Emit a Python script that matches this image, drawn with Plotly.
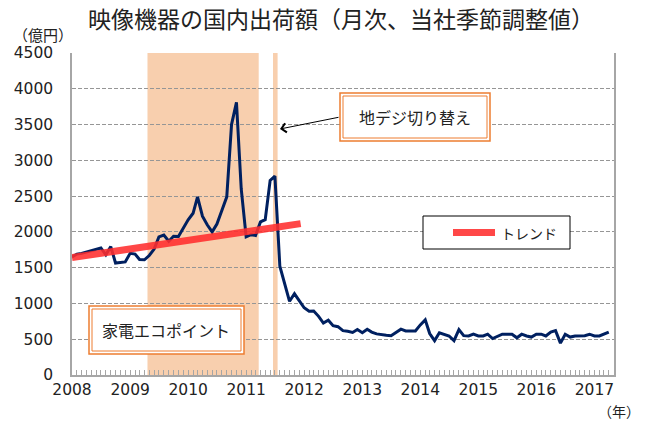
import pandas as pd
import plotly.graph_objects as go

# ---- data ----
months = pd.date_range("2008-01-01", periods=112, freq="MS")
shipments = [
    1650, 1690, 1700, 1720, 1740, 1755, 1775, 1680, 1795, 1565, 1570, 1580,   # 2008
    1700, 1690, 1615, 1610, 1670, 1760, 1930, 1955, 1870, 1940, 1935, 2050,   # 2009
    2170, 2260, 2490, 2220, 2100, 2000, 2110, 2300, 2490, 3500, 3810, 2600,   # 2010
    1930, 1960, 1950, 2140, 2170, 2720, 2780, 1520, 1270, 1030, 1135, 1030,   # 2011
    940, 890, 895, 820, 725, 765, 690, 675, 620, 610, 595, 635,               # 2012
    590, 640, 600, 575, 560, 555, 550, 595, 640, 615, 615, 615,               # 2013
    700, 770, 580, 480, 590, 570, 545, 480, 635, 550, 545, 570,               # 2014
    545, 545, 570, 510, 545, 570, 570, 570, 520, 570, 545, 530,               # 2015
    570, 570, 545, 600, 620, 445, 570, 530, 545, 545, 550, 570,               # 2016
    545, 545, 570, 600,                                                        # 2017
]
trend_x = ["2008-01-01", "2011-12-10"]
trend_y = [1640, 2115]

ecopoint_period = ("2009-04-20", "2011-03-21")
digital_switch_period = ("2011-06-19", "2011-07-18")

year_ticks = [f"{y}-01-01" for y in range(2008, 2018)]
year_labels = [str(y) for y in range(2008, 2018)]
y_ticks = list(range(0, 4501, 500))

title_text = "映像機器の国内出荷額（月次、当社季節調整値）"
legend_label = "トレンド"

# ---- figure ----
FONT = "DejaVu Sans, Noto Sans CJK JP, sans-serif"
JFONT = "Noto Sans CJK JP, sans-serif"
ORANGE = "#ED7D31"
PEACH = "#F8CFAE"
GRID = "#969696"
TXT = "#222222"
TREND_COLOR = "rgba(255,45,45,0.88)"

L, R, T, B = 72, 35, 53, 49
W, H = 649, 424
PW, PH = W - L - R, H - T - B


def px(x):
    return (x - L) / PW


def py(y):
    return (H - B - y) / PH


fig = go.Figure()

fig.add_trace(go.Scatter(
    x=months, y=shipments, mode="lines",
    line=dict(color="#002060", width=3),
    showlegend=False, name="出荷額",
))
fig.add_trace(go.Scatter(
    x=trend_x, y=trend_y, mode="lines",
    line=dict(color=TREND_COLOR, width=7),
    name=legend_label, showlegend=False,
))

shapes = []
for (x0, x1) in (ecopoint_period, digital_switch_period):
    shapes.append(dict(type="rect", xref="x", yref="paper", x0=x0, x1=x1, y0=0, y1=1,
                       fillcolor=PEACH, line=dict(width=0), layer="below"))


def double_box(x0, y0, x1, y1):
    shapes.append(dict(type="rect", xref="paper", yref="paper",
                       x0=px(x0), x1=px(x1), y0=py(y1), y1=py(y0),
                       fillcolor="white", line=dict(color=ORANGE, width=1.5), layer="above"))
    shapes.append(dict(type="rect", xref="paper", yref="paper",
                       x0=px(x0 + 3), x1=px(x1 - 3), y0=py(y1 - 3), y1=py(y0 + 3),
                       fillcolor="rgba(0,0,0,0)", line=dict(color=ORANGE, width=1), layer="above"))


double_box(340, 93, 490, 141)
double_box(89, 306, 244, 354)

# legend box (trend)
shapes.append(dict(type="rect", xref="paper", yref="paper",
                   x0=px(423), x1=px(570), y0=py(249), y1=py(216),
                   fillcolor="white", line=dict(color="black", width=1), layer="above"))
shapes.append(dict(type="line", xref="paper", yref="paper",
                   x0=px(453), x1=px(495), y0=py(232.5), y1=py(232.5),
                   line=dict(color=TREND_COLOR, width=7), layer="above"))

annotations = [
    dict(text="地デジ切り替え", xref="paper", yref="paper", x=px(415), y=py(117),
         xanchor="center", yanchor="middle",
         showarrow=False, font=dict(family=JFONT, size=16, color=TXT)),
    dict(text="家電エコポイント", xref="paper", yref="paper", x=px(166), y=py(330),
         xanchor="center", yanchor="middle",
         showarrow=False, font=dict(family=JFONT, size=16, color=TXT)),
    dict(text=legend_label, xref="paper", yref="paper", x=px(499), y=py(232.5),
         xanchor="left", yanchor="middle",
         showarrow=False, font=dict(family=JFONT, size=14, color=TXT)),
    dict(text="", xref="paper", yref="paper", x=px(280), y=py(129),
         ax=60, ay=-12, showarrow=True, arrowhead=4, arrowsize=1.8, arrowwidth=1,
         arrowcolor="black"),
    dict(text="（億円）", xref="paper", yref="paper", x=px(43), y=py(34),
         xanchor="center", yanchor="middle",
         showarrow=False, font=dict(family=JFONT, size=15, color=TXT)),
    dict(text="（年）", xref="paper", yref="paper", x=px(619), y=py(411),
         xanchor="center", yanchor="middle",
         showarrow=False, font=dict(family=JFONT, size=14, color=TXT)),
]

fig.update_layout(
    width=W, height=H,
    margin=dict(l=L, r=R, t=T, b=B),
    paper_bgcolor="white", plot_bgcolor="rgba(0,0,0,0)",
    font=dict(family=FONT, size=15, color=TXT),
    title=dict(text=title_text, xref="container", x=341 / W, xanchor="center",
               y=1 - 20 / H, yanchor="middle",
               font=dict(family=JFONT, size=23, color=TXT)),
    shapes=shapes, annotations=annotations,
    showlegend=False,
)

fig.update_xaxes(
    type="date", range=["2008-01-01", "2017-05-04"],
    tickvals=year_ticks, ticktext=year_labels,
    showgrid=False, showline=True, linecolor="#A6A6A6", linewidth=1.5,
    ticks="inside", ticklen=5, tickcolor="#A6A6A6",
    minor=dict(dtick="M1", ticks="inside", ticklen=5, tickcolor="#A6A6A6", showgrid=False),
    tickfont=dict(family=FONT, size=15.5, color=TXT),
    zeroline=False,
)
fig.update_yaxes(
    range=[0, 4500], tickvals=y_ticks,
    showgrid=True, gridcolor=GRID, griddash="4px,2px", gridwidth=1,
    showline=True, linecolor="#A6A6A6", linewidth=1.5, mirror=True,
    ticks="", ticklabelstandoff=14,
    tickfont=dict(family=FONT, size=15.5, color=TXT),
    zeroline=False,
)

fig.write_html("out.html", config={"displayModeBar": False},
               post_script="document.body.style.margin='0';")
